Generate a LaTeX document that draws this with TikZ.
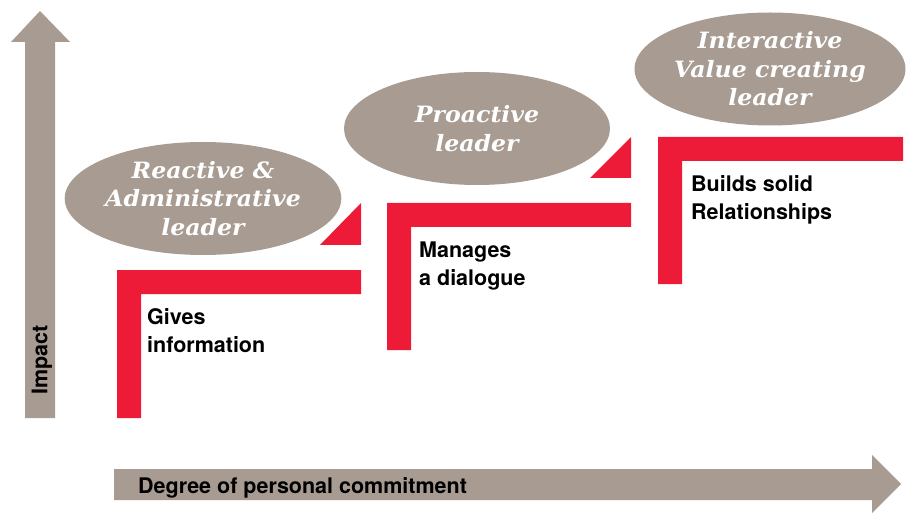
\documentclass[tikz,border=0pt]{standalone}
\usepackage{fontspec}
\usetikzlibrary{shapes.geometric}
\newfontfamily\dvs[FakeStretch=1.05]{DejaVu Serif}
\newfontfamily\heros{TeX Gyre Heros}
\definecolor{pwcgray}{RGB}{167,155,146}
\definecolor{pwcred}{RGB}{237,27,55}
\tikzset{
  lead/.style={ellipse, fill=pwcgray, minimum width=266pt, minimum height=113pt, inner sep=0pt,
    align=center, text=white, font=\dvs\bfseries\itshape\fontsize{22.5}{28.5}\selectfont},
  lbl/.style={anchor=north west, inner sep=0pt, align=left, font=\heros\bfseries\fontsize{21.5}{28}\selectfont},
  stepbar/.style={fill=pwcred},
  axisarrow/.style={fill=pwcgray},
  axislbl/.style={inner sep=0pt, font=\heros\bfseries\fontsize{21.5}{25}\selectfont}
}
\begin{document}
\begin{tikzpicture}[x=1pt,y=-1pt]
\useasboundingbox (0,0) rectangle (913,513);
% axes
\fill[axisarrow] (25,418) -- (25,42) -- (11,42) -- (40,11) -- (70,42) -- (55,42) -- (55,418) -- cycle;
\fill[axisarrow] (114,469) -- (872,469) -- (872,455) -- (901,484) -- (872,513) -- (872,500) -- (114,500) -- cycle;
\node[axislbl, rotate=90] (impact) at (42,360) {Impact};
\node[axislbl, anchor=base west] (degree) at (138,493) {Degree of personal commitment};
% steps
\fill[stepbar] (117,418) -- (117,270) -- (361,270) -- (361,294) -- (141,294) -- (141,418) -- cycle;
\fill[stepbar] (387,350) -- (387,203) -- (631,203) -- (631,227) -- (411,227) -- (411,350) -- cycle;
\fill[stepbar] (658,284) -- (658,137) -- (903,137) -- (903,161) -- (682,161) -- (682,284) -- cycle;
\fill[stepbar] (320,245) -- (361,245) -- (361,203) -- cycle;
\fill[stepbar] (590,178) -- (631,178) -- (631,137) -- cycle;
% ellipses
\node[lead] (e1) at (203,198.5) {Reactive \&\\Administrative\\leader};
\node[lead] (e2) at (477,128.5) {Proactive\\leader};
\node[lead] (e3) at (770,69) {Interactive\\Value creating\\leader};
% labels
\node[lbl] (l1) at (147,308.5) {Gives\\information};
\node[lbl] (l2) at (419,242) {Manages\\a dialogue};
\node[lbl] (l3) at (691,175) {Builds solid\\Relationships};
\end{tikzpicture}
\end{document}
